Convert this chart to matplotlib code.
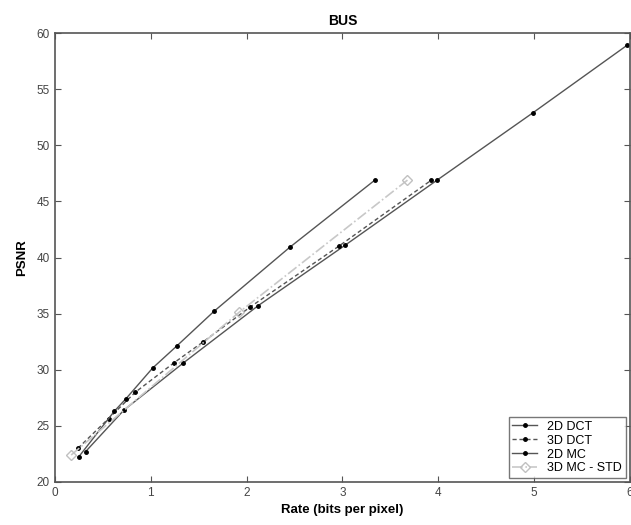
import matplotlib
matplotlib.use("Agg")
import matplotlib.pyplot as plt

plt.rcParams['font.family'] = ['Liberation Sans', 'DejaVu Sans']

# rate (bits per pixel) / PSNR
dct2d_rate = [0.32, 0.72, 1.34, 2.12, 3.03, 3.99, 4.99, 5.97]
dct2d_psnr = [22.7, 26.4, 30.6, 35.7, 41.1, 46.9, 52.9, 58.9]

dct3d_rate = [0.24, 0.56, 0.84, 1.24, 1.55, 2.04, 2.97, 3.93]
dct3d_psnr = [23.0, 25.65, 28.0, 30.6, 32.5, 35.6, 41.05, 46.9]

mc2d_rate = [0.25, 0.62, 0.74, 1.02, 1.27, 1.66, 2.45, 3.34]
mc2d_psnr = [22.25, 26.3, 27.4, 30.15, 32.1, 35.2, 40.9, 46.9]

mc3d_rate = [0.17, 1.92, 3.68]
mc3d_psnr = [22.4, 35.1, 46.9]

fig = plt.figure(figsize=(6.31, 5.25), dpi=100)
ax = fig.add_axes([0.087, 0.082, 0.911, 0.855])

ax.plot(dct2d_rate, dct2d_psnr, color="#555555", lw=1.0, marker=".", ms=5,
        mfc="black", mec="black", label="2D DCT")
ax.plot(dct3d_rate, dct3d_psnr, color="#555555", lw=1.0, ls=(0, (3, 2)), marker=".", ms=5,
        mfc="black", mec="black", label="3D DCT")
ax.plot(mc2d_rate, mc2d_psnr, color="#555555", lw=1.0, marker=".", ms=5,
        mfc="black", mec="black", label="2D MC")
ax.plot(mc3d_rate, mc3d_psnr, color="#c8c8c8", lw=1.2, ls="-.", marker="D", ms=5,
        mfc="none", mec="#c0c0c0", label="3D MC - STD")

ax.set_xlim(0, 6)
ax.set_ylim(20, 60)
ax.set_xticks(range(0, 7))
ax.set_yticks(range(20, 61, 5))
ax.tick_params(direction="in", length=4, labelsize=8.5, colors="#555555",
               labelcolor="#444444", top=True, right=True)
for s in ax.spines.values():
    s.set_color("#555555")
    s.set_linewidth(1.2)

ax.set_title("BUS", fontsize=10, fontweight="bold", pad=6)
ax.set_xlabel("Rate (bits per pixel)", fontsize=9.5, fontweight="bold", labelpad=4)
ax.set_ylabel("PSNR", fontsize=9.5, fontweight="bold", labelpad=6)

leg = ax.legend(loc="lower right", fontsize=9, frameon=True, fancybox=False,
                edgecolor="#555555", borderaxespad=0.3, handlelength=2.0,
                labelspacing=0.15, borderpad=0.3)
leg.get_frame().set_linewidth(1.0)

fig.savefig("out.png", dpi=100)
